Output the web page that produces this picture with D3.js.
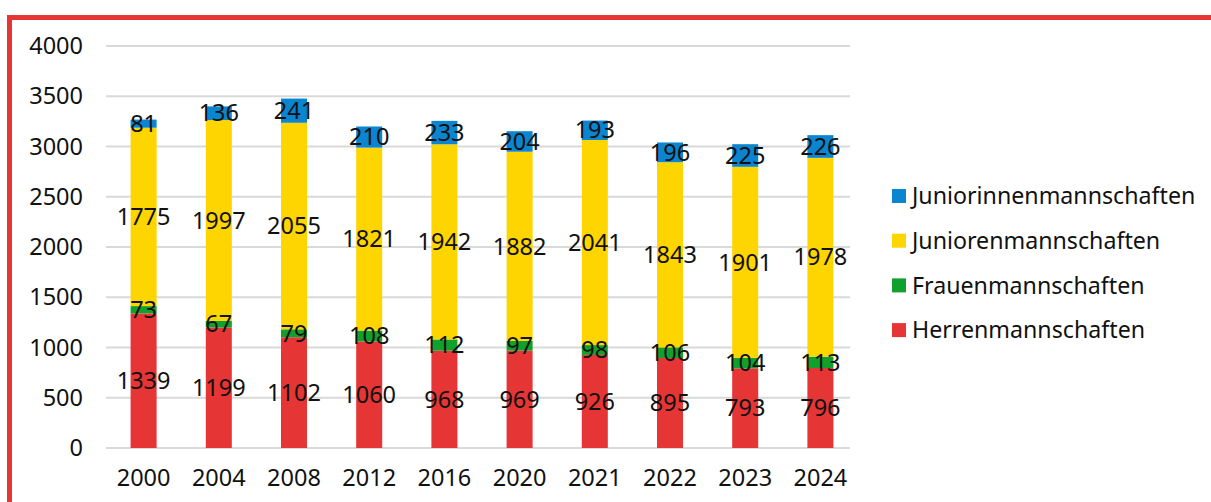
<!DOCTYPE html>
<html>
<head>
<meta charset="utf-8">
<script src="https://cdn.jsdelivr.net/npm/d3@7"></script>
<style>
  body { margin: 0; background: #fff; }
  svg text { font-family: "Noto Sans", sans-serif; fill: #111; }
</style>
</head>
<body>
<svg id="chart" width="1211" height="502"></svg>
<script>
// years on the x axis
var years = ["2000", "2004", "2008", "2012", "2016", "2020", "2021", "2022", "2023", "2024"];
// series, bottom to top
var herren = [1339, 1199, 1102, 1060, 968, 969, 926, 895, 793, 796];
var frauen = [73, 67, 79, 108, 112, 97, 98, 106, 104, 113];
var junioren = [1775, 1997, 2055, 1821, 1942, 1882, 2041, 1843, 1901, 1978];
var juniorinnen = [81, 136, 241, 210, 233, 204, 193, 196, 225, 226];
var seriesNames = ["Herrenmannschaften", "Frauenmannschaften", "Juniorenmannschaften", "Juniorinnenmannschaften"];
var yTicks = [0, 500, 1000, 1500, 2000, 2500, 3000, 3500, 4000];

var colors = ["#e63535", "#12a02c", "#ffd500", "#0b85d0"];

var svg = d3.select("#chart");
var margin = {top: 46, left: 106, bottom: 54};
var height = 502;
var plotW = 752;
var fs = 23.5;

/* red frame */
svg.append("rect")
    .attr("x", 9.5).attr("y", 17.5)
    .attr("width", 1240).attr("height", 520)
    .attr("fill", "none")
    .attr("stroke", "#e63535")
    .attr("stroke-width", 5);

var x = d3.scaleBand()
    .domain(years)
    .range([margin.left, margin.left + plotW])
    .paddingInner(0.654)
    .paddingOuter(0.327);

var y = d3.scaleLinear()
    .domain([0, 4000])
    .range([height - margin.bottom, margin.top]);

/* grid lines */
svg.append("g")
    .selectAll("line")
    .data(yTicks)
    .join("line")
    .attr("x1", margin.left).attr("x2", margin.left + plotW - 8)
    .attr("y1", d => y(d)).attr("y2", d => y(d))
    .attr("stroke", "#d9d9d9")
    .attr("stroke-width", 2);

/* y axis labels */
var yAxis = svg.append("g")
    .attr("transform", "translate(" + (margin.left - 21) + ",0)")
    .call(d3.axisLeft(y).tickValues(yTicks).tickFormat(d3.format("d")).tickSize(0).tickPadding(2));
yAxis.select(".domain").remove();
yAxis.selectAll("text")
    .attr("font-size", fs)
    .style("font-family", "Noto Sans, sans-serif")
    .attr("fill", "#111");

/* x axis labels */
var xAxis = svg.append("g")
    .attr("transform", "translate(0," + (y(0) + 30) + ")")
    .call(d3.axisBottom(x).tickSize(0).tickPadding(0));
xAxis.select(".domain").remove();
xAxis.selectAll("text")
    .attr("font-size", fs)
    .attr("y", 0)
    .attr("dy", "0.35em")
    .style("font-family", "Noto Sans, sans-serif")
    .attr("fill", "#111");

/* stacked bars */
var table = years.map(function(yr, i) {
    return {year: yr, s0: herren[i], s1: frauen[i], s2: junioren[i], s3: juniorinnen[i]};
});
var stack = d3.stack().keys(["s0", "s1", "s2", "s3"])(table);

var layers = svg.append("g")
    .selectAll("g")
    .data(stack)
    .join("g")
    .attr("fill", (d, i) => colors[i]);

layers.selectAll("rect")
    .data(d => d)
    .join("rect")
    .attr("x", d => x(d.data.year))
    .attr("width", x.bandwidth())
    .attr("y", d => y(d[1]))
    .attr("height", d => y(d[0]) - y(d[1]));

/* value labels, centered in each segment */
var labels = svg.append("g")
    .selectAll("g")
    .data(stack)
    .join("g");

labels.selectAll("text")
    .data(d => d)
    .join("text")
    .attr("x", d => x(d.data.year) + x.bandwidth() / 2)
    .attr("y", d => y((d[0] + d[1]) / 2))
    .attr("dy", "0.35em")
    .attr("text-anchor", "middle")
    .attr("font-size", fs)
    .text(d => d[1] - d[0]);

/* legend */
var legend = svg.append("g")
    .attr("transform", "translate(892,196)");
var legendOrder = [3, 2, 1, 0];
var rows = legend.selectAll("g")
    .data(legendOrder)
    .join("g")
    .attr("transform", (d, i) => "translate(0," + (i * 44.7) + ")");
rows.append("rect")
    .attr("x", 0).attr("y", -7)
    .attr("width", 14).attr("height", 14)
    .attr("fill", d => colors[d]);
rows.append("text")
    .attr("x", 20)
    .attr("dy", "0.35em")
    .attr("font-size", 23.2)
    .text(d => seriesNames[d]);
</script>
</body>
</html>
